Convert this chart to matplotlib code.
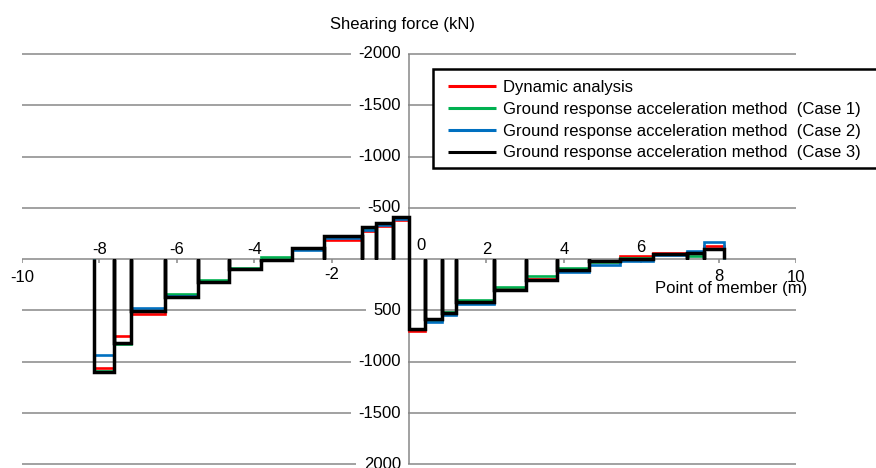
import matplotlib
matplotlib.use("Agg")
import matplotlib.pyplot as plt
from matplotlib.patches import Rectangle

plt.rcParams['font.family'] = ['Liberation Sans', 'DejaVu Sans']

# ---- data ----
x_nodes = [-8.14, -7.61, -7.19, -6.30, -5.46, -4.65, -3.83, -3.02, -2.20, -1.21, -0.85, -0.42,
           0.00, 0.42, 0.85, 1.21, 2.20, 3.02, 3.83, 4.65, 5.46, 6.30, 7.19, 7.61, 8.14]
dynamic = [1060, 750, 537, 360, 220, 97, 5, -100, -185, -272, -320, -380,
           702, 590, 530, 425, 295, 195, 100, 15, -32, -60, -60, -132]
case1 = [1085, 830, 505, 340, 205, 85, -20, -105, -215, -300, -345, -400,
         680, 590, 514, 395, 272, 168, 88, 23, -16, -55, -32, -100]
case2 = [930, 815, 480, 360, 225, 100, 10, -90, -205, -288, -336, -395,
         685, 611, 547, 434, 300, 205, 120, 55, 13, -45, -80, -171]
case3 = [1100, 820, 505, 365, 222, 100, 3, -113, -225, -313, -352, -412,
         679, 579, 524, 421, 298, 201, 104, 16, 0, -55, -65, -97]

series_names = ["Dynamic analysis",
                "Ground response acceleration method  (Case 1)",
                "Ground response acceleration method  (Case 2)",
                "Ground response acceleration method  (Case 3)"]
series_values = [dynamic, case1, case2, case3]
series_colors = ['#FF0000', '#00B050', '#0070C0', '#000000']
series_widths = [1.9, 1.9, 1.9, 2.5]

y_grid = [-2000, -1500, -1000, -500, 0, 500, 1000, 1500, 2000]
y_labels = ["-2000", "-1500", "-1000", "-500", "", "500", "-1000", "-1500", "2000"]
x_ticks = [-10, -8, -6, -4, -2, 0, 2, 4, 6, 8, 10]
x_labels = ["-10", "-8", "-6", "-4", "-2", "0", "2", "4", "6", "8", "10"]
x_label_pos = [(-10, 180), (-8, -90), (-6, -90), (-4, -90), (-2, 150), (0.3, -135),
               (2, -90), (4, -90), (6, -110), (8, 165), (10, 180)]

# ---- figure ----
W, H = 876, 468
fig = plt.figure(figsize=(W/100, H/100), dpi=100)
ax = fig.add_axes([22/W, 1-464.4/H, 774/W, 410.4/H])
ax.set_xlim(-10, 10)
ax.set_ylim(2000, -2000)
ax.axis('off')

grid_color = '#878787'
for v in y_grid:
    ax.hlines(v, -10, 10, color=grid_color, lw=1.1, zorder=1, clip_on=False)
ax.vlines(0, -2000, 2000, color=grid_color, lw=1.1, zorder=1, clip_on=False)
for t in x_ticks:
    ax.vlines(t, 0, 38, color=grid_color, lw=1.1, zorder=1)

for lab, v in zip(y_labels, y_grid):
    if lab:
        ax.annotate(lab, xy=(0, v), xytext=(-5.8, 0), textcoords='offset points',
                    ha='right', va='center', fontsize=12, zorder=2,
                    bbox=dict(boxstyle='square,pad=0.45', fc='white', ec='none'))

for lab, (xp, yp) in zip(x_labels, x_label_pos):
    ax.text(xp, yp, lab, ha='center', va='center', fontsize=12, zorder=2)

for name, vals, col, lw in zip(series_names, series_values, series_colors, series_widths):
    xs, ys = [], []
    for i, v in enumerate(vals):
        x0, x1 = x_nodes[i], x_nodes[i+1]
        xs += [x0, x0, x1, x1]
        ys += [0, v, v, 0]
    ax.plot(xs, ys, color=col, lw=lw, label=name, zorder=3,
            solid_joinstyle='miter', solid_capstyle='butt')

ax.text(6.36, 281, "Point of member (m)", ha='left', va='center', fontsize=12, zorder=4)
fig.text(403/W, 1-24/H, "Shearing force (kN)", ha='center', va='center', fontsize=12)

# legend frame (extends past the right edge like the reference)
frame = Rectangle((433/W, 1-168/H), 460/W, 99/H, transform=fig.transFigure,
                  fc='white', ec='black', lw=1.8, zorder=5, clip_on=False)
ax.add_patch(frame)
leg = ax.legend(loc='upper left', bbox_to_anchor=(448/W, 1-80/H),
                bbox_transform=fig.transFigure, fontsize=12, frameon=False,
                borderpad=0, labelspacing=0.41,
                handlelength=2.9, handletextpad=0.4, borderaxespad=0)
leg.set_zorder(6)
for h in leg.get_lines():
    h.set_linewidth(2.2)

fig.savefig("out.png", dpi=100)
